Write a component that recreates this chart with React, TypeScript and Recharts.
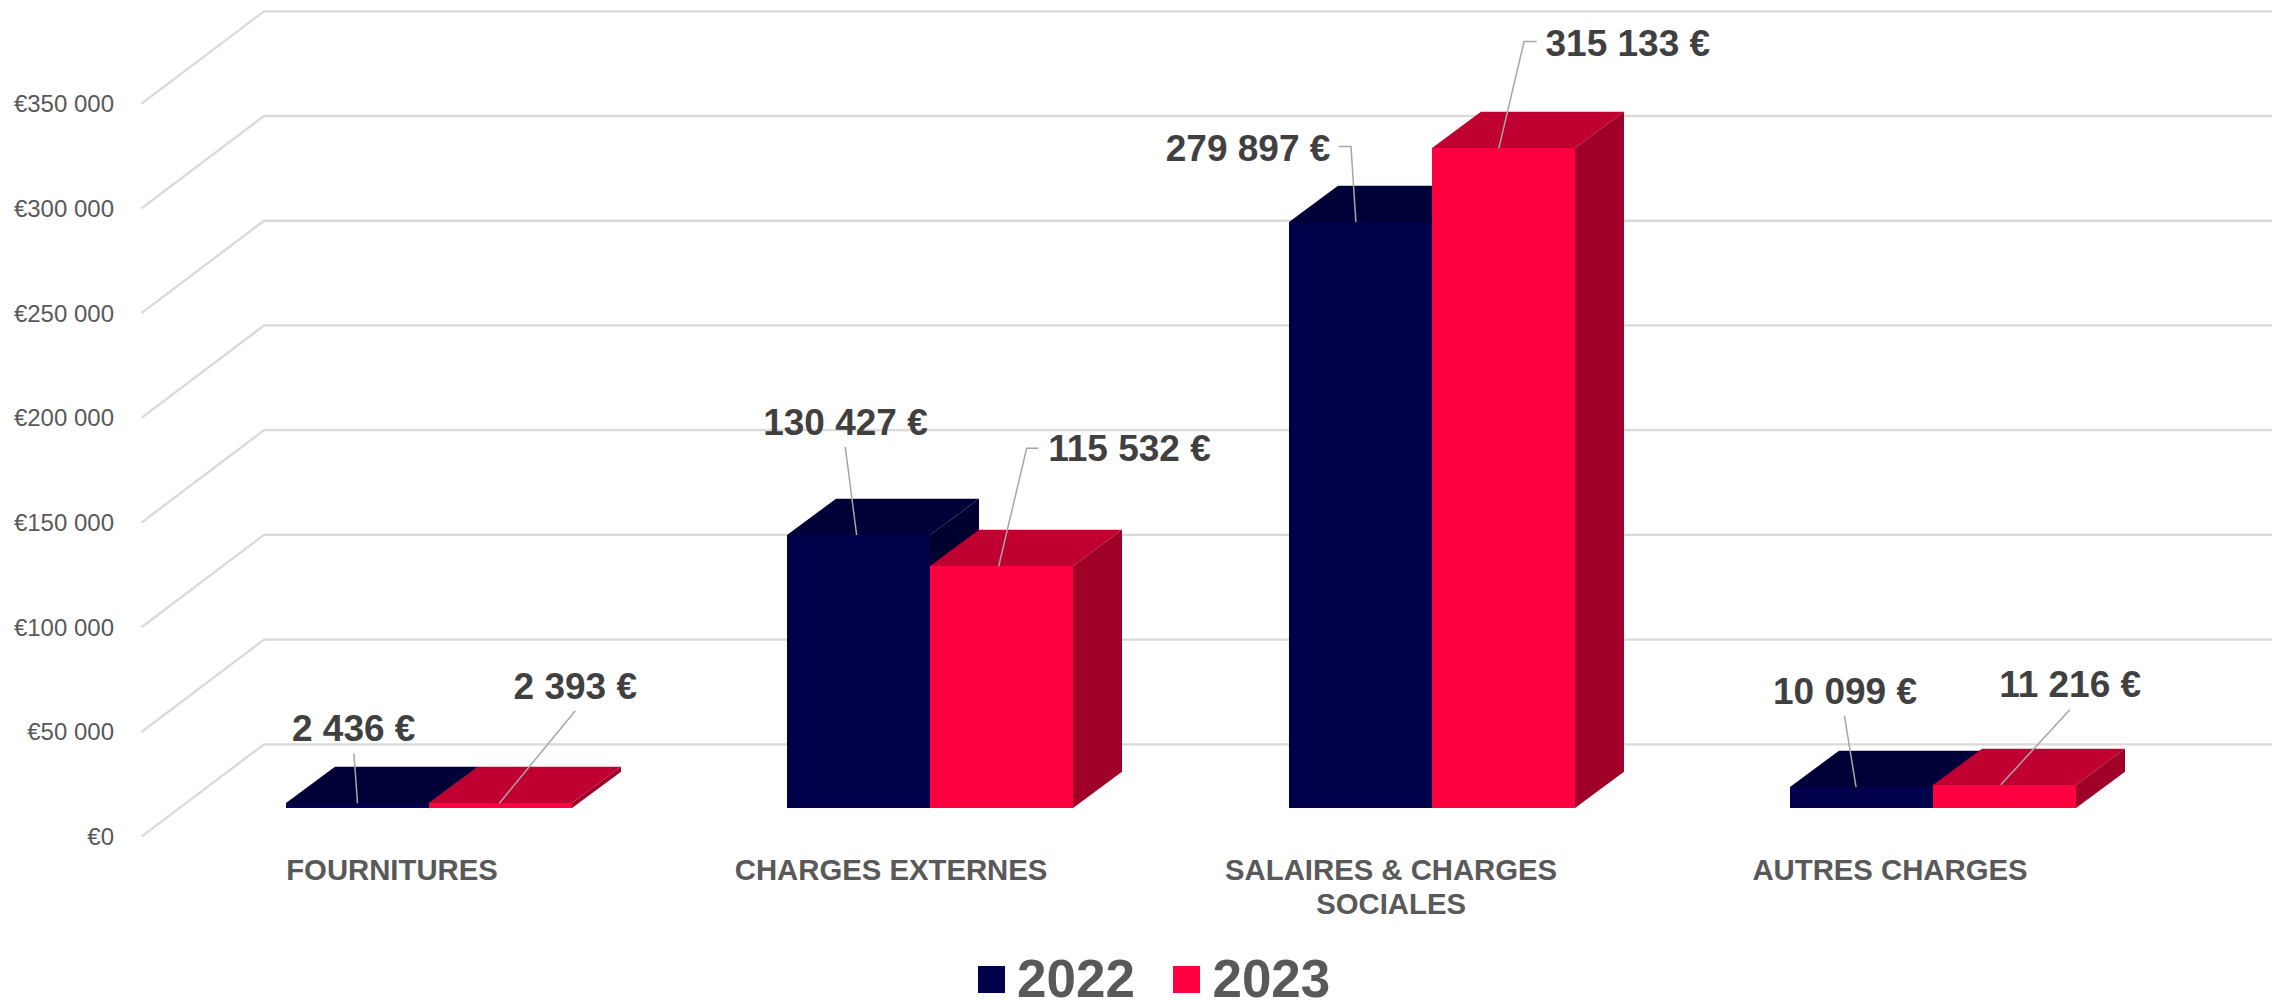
import { BarChart, Bar, XAxis, YAxis, CartesianGrid, LabelList, Legend } from 'recharts'

const categories = ['FOURNITURES', 'CHARGES EXTERNES', 'SALAIRES & CHARGES SOCIALES', 'AUTRES CHARGES']
const categoryLines = [['FOURNITURES'], ['CHARGES EXTERNES'], ['SALAIRES & CHARGES', 'SOCIALES'], ['AUTRES CHARGES']]
const values2022 = [2436, 130427, 279897, 10099]
const values2023 = [2393, 115532, 315133, 11216]
const yTicks = [0, 50000, 100000, 150000, 200000, 250000, 300000, 350000]

const data = categories.map((name, i) => ({ name, y2022: values2022[i], y2023: values2023[i] }))

const FONT = '"Liberation Sans", Arial, sans-serif'
const GRID = '#DADADA'
const LEADER = '#A6A6A6'

// the fake 3D: how far the back of a bar sits from its front face
const DEPTH_X = 49
const DEPTH_Y = 36.3
// the floor/wall the grid is drawn on, relative to the plane of the bars
const WALL_X = 264
const WALL_DY = -64
const FLOOR_X = 141.5
const FLOOR_DY = 28.4

const BLUE = { front: '#00004B', top: '#000038', side: '#00002E' }
const RED = { front: '#FF0040', top: '#BF0030', side: '#A00028' }

// label centre and leader points, relative to the middle of the bar's top edge
const labels2022 = [
  { at: [-3.8, -75.5], leader: [[0, 0], [-3.6, -49.9]] },
  { at: [-13.3, -113.5], leader: [[-2.1, 0], [-13.5, -88.2]] },
  { at: [-111.9, -74.2], leader: [[-4.1, 0], [-9, -75.5], [-21.1, -75.5]] },
  { at: [-16.2, -96.2], leader: [[-5.2, 0], [-16.8, -71.2]] },
]
const labels2023 = [
  { at: [74.8, -117.6], leader: [[-1.2, 0], [74.8, -92.6]] },
  { at: [127.7, -118.1], leader: [[-3.1, 0], [24.9, -118.1], [36.5, -118.1]] },
  { at: [124.8, -105.7], leader: [[-4.2, 0], [21.1, -106.7], [33.7, -106.7]] },
  { at: [65.9, -100.5], leader: [[-3.5, 0], [65.5, -75.1]] },
]

// category labels are not quite centred under their bars in the original
const categoryShift = [-36.6, -38.8, -40, -42.4]

const spaced = (v: number) => String(v).replace(/\B(?=(\d{3})+$)/g, ' ')

const Box3D = (colors: typeof BLUE) => (props: any) => {
  const x = Math.round(props.x)
  const y = Math.round(props.y)
  const w = Math.round(props.x + props.width) - x
  const h = Math.round(props.y + props.height) - y
  return (
    <g>
      <polygon points={`${x},${y} ${x + DEPTH_X},${y - DEPTH_Y} ${x + w + DEPTH_X},${y - DEPTH_Y} ${x + w},${y}`} fill={colors.top} />
      <polygon points={`${x + w},${y} ${x + w + DEPTH_X},${y - DEPTH_Y} ${x + w + DEPTH_X},${y + h - DEPTH_Y} ${x + w},${y + h}`} fill={colors.side} />
      <rect x={x} y={y} width={w} height={h} fill={colors.front} />
    </g>
  )
}

const ValueLabel = (layout: typeof labels2022) => (props: any) => {
  const { x, y, width, value, index } = props
  const cx = x + width / 2
  const item = layout[index]
  return (
    <g>
      <polyline
        points={item.leader.map(p => `${cx + p[0]},${y + p[1]}`).join(' ')}
        fill="none"
        stroke={LEADER}
        strokeWidth={1.5}
      />
      <text
        x={cx + item.at[0]}
        y={y + item.at[1] + 13}
        textAnchor="middle"
        fontFamily={FONT}
        fontSize={37}
        fontWeight={700}
        fill="#404040"
      >
        {spaced(value)} €
      </text>
    </g>
  )
}

const GridLine = (props: any) => {
  const { y1, key } = props
  return (
    <polyline
      key={key}
      points={`${FLOOR_X},${y1 + FLOOR_DY} ${WALL_X},${y1 + WALL_DY} 2272,${y1 + WALL_DY}`}
      fill="none"
      stroke={GRID}
      strokeWidth={2.3}
    />
  )
}

const MoneyTick = (props: any) => {
  const { x, y, payload } = props
  return (
    <text x={x - 64} y={y + FLOOR_DY + 8.5} textAnchor="end" fontFamily={FONT} fontSize={24} fill="#595959">
      €{spaced(payload.value)}
    </text>
  )
}

const CategoryTick = (props: any) => {
  const { x, y, index } = props
  return (
    <text textAnchor="middle" fontFamily={FONT} fontSize={29.3} fontWeight={700} fill="#595959">
      {categoryLines[index].map((line, i) => (
        <tspan key={i} x={x + categoryShift[index]} y={y + 71.5 + i * 34}>{line}</tspan>
      ))}
    </text>
  )
}

const LegendRow = ({ payload }: any) => (
  <div style={{ display: 'flex', alignItems: 'center', fontFamily: FONT, fontSize: 53, fontWeight: 700, color: '#595959', lineHeight: '43px' }}>
    {(payload || []).map((entry: any, i: number) => (
      <div key={i} style={{ display: 'flex', alignItems: 'center', marginRight: 38.5 }}>
        <div style={{ width: 27, height: 27, background: entry.color, marginRight: 12, marginTop: 2 }} />
        <div>{entry.value}</div>
      </div>
    ))}
  </div>
)

export default function App() {
  return (
    <div style={{ position: 'absolute', left: 0, top: 0, width: 2272, height: 1000, background: '#fff' }}>
      <BarChart
        width={2272}
        height={1000}
        data={data}
        barSize={143}
        barGap={0}
        margin={{ top: 75.3, right: 89, bottom: 0, left: 0 }}
      >
        <CartesianGrid vertical={false} horizontal={GridLine} />
        <XAxis dataKey="name" height={191.7} axisLine={false} tickLine={false} tickSize={0} tickMargin={0} interval={0} tick={CategoryTick} />
        <YAxis width={178} domain={[0, 350000]} ticks={yTicks} interval={0} axisLine={false} tickLine={false} tickSize={0} tickMargin={0} tick={MoneyTick} />
        <Legend
          layout="horizontal"
          align="center"
          verticalAlign="middle"
          content={LegendRow}
          wrapperStyle={{ left: 978, top: 956.5, width: 400, height: 43 }}
        />
        <Bar dataKey="y2022" name="2022" fill={BLUE.front} shape={Box3D(BLUE)} isAnimationActive={false}>
          <LabelList dataKey="y2022" content={ValueLabel(labels2022)} />
        </Bar>
        <Bar dataKey="y2023" name="2023" fill={RED.front} shape={Box3D(RED)} isAnimationActive={false}>
          <LabelList dataKey="y2023" content={ValueLabel(labels2023)} />
        </Bar>
      </BarChart>
    </div>
  )
}
